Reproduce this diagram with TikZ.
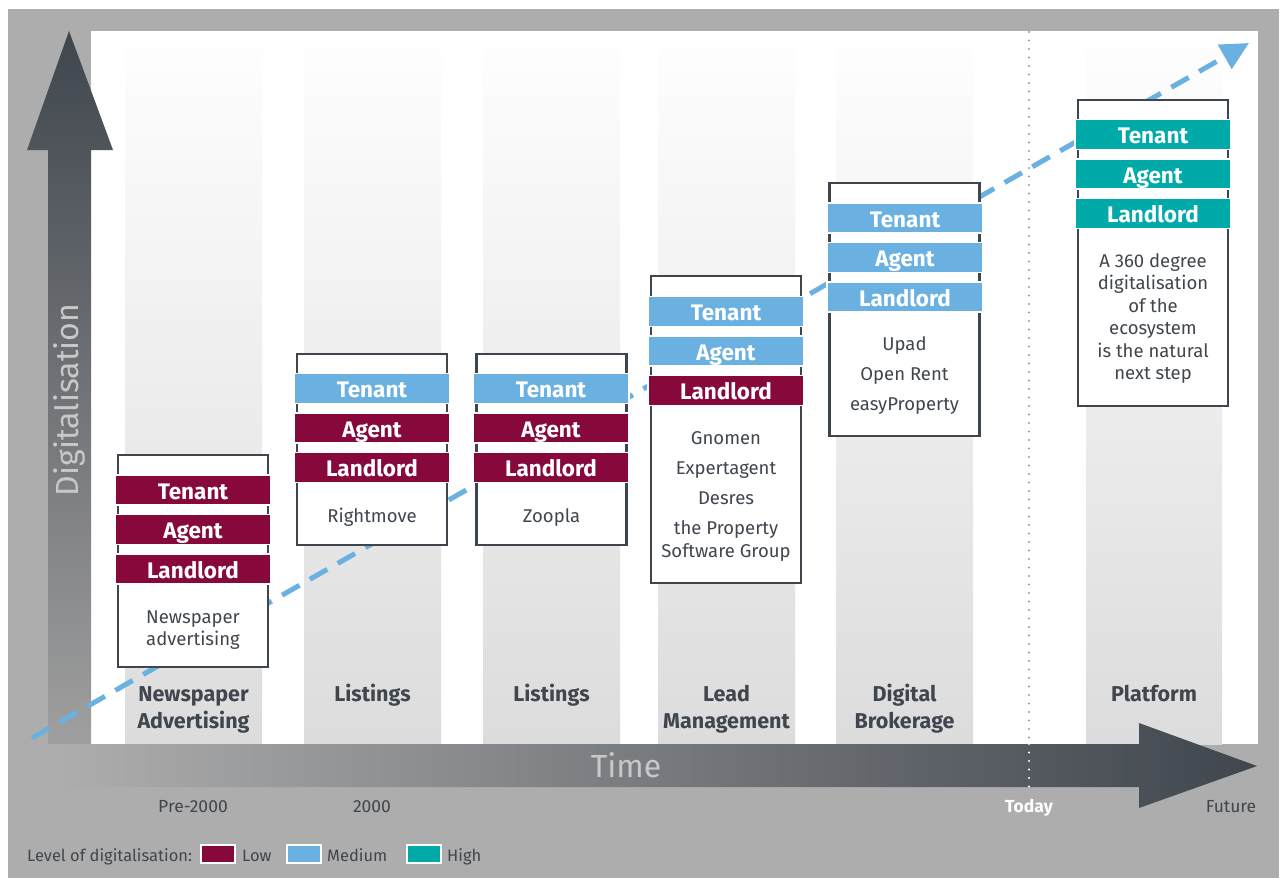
\documentclass[tikz,border=0pt]{standalone}
\usepackage{fontspec}
\setmainfont{Fira Sans}
\usetikzlibrary{arrows.meta}
\definecolor{low}{HTML}{87093C}
\definecolor{med}{HTML}{6AB0E1}
\definecolor{high}{HTML}{00AAA9}
\definecolor{framegray}{HTML}{ADADAD}
\definecolor{edge}{HTML}{3E454D}
\definecolor{ink}{HTML}{40464E}
\definecolor{darkarrow}{HTML}{40464E}
\definecolor{bandgray}{HTML}{DCDCDC}
\definecolor{axistext}{HTML}{C8C8C8}
\definecolor{dotgray}{HTML}{9A9A9A}
\newcommand\mkbars[6]{%
  \node[bar,fill=#4] (#1t) at (#2,#3) {Tenant};
  \node[bar,fill=#5] (#1a) at (#2,#3+39.5) {Agent};
  \node[bar,fill=#6] (#1l) at (#2,#3+79) {Landlord};}
\begin{document}
\begin{tikzpicture}[x=1pt,y=-1pt,
  bar/.style={minimum width=156pt, minimum height=30pt, inner sep=0pt, draw=white, line width=1.2pt,
    text=white, text height=18pt, text depth=0pt, font=\fontsize{22.5}{26}\selectfont\bfseries},
  stagebox/.style={draw=edge, line width=2.5pt, fill=white, inner sep=0pt, minimum width=150pt},
  body/.style={text=ink, font=\fontsize{18.5}{23}\selectfont, anchor=base, inner sep=0pt},
  phase/.style={text=ink, font=\fontsize{21.5}{26}\selectfont\bfseries, anchor=base, inner sep=0pt},
  year/.style={text=ink, font=\fontsize{17.5}{21}\selectfont, anchor=base, inner sep=0pt},
  legendtext/.style={text=ink, font=\fontsize{16.5}{20}\selectfont, anchor=base west, inner sep=0pt},
  swatch/.style={draw=white, line width=1.2pt, minimum width=34pt, minimum height=18pt, inner sep=0pt},
  dashline/.style={med, line width=5pt, dash pattern=on 20pt off 12pt, -{Triangle[length=28pt,width=27pt]}},
]
\useasboundingbox (0,0) rectangle (1283,878);
\fill[white] (0,0) rectangle (1283,878);
\fill[framegray] (8,9) rectangle (1279,878);
\fill[white] (91,31) rectangle (1258,744);
% column bands
\foreach \l/\r in {125/262, 304/441, 483/620, 658/795, 836/973, 1086/1222}{
  \shade[top color=white!97!bandgray, bottom color=bandgray] (\l,43) rectangle (\r,744);
}
% vertical axis arrow
\shade[top color=darkarrow, bottom color=framegray!92!black]
  (48,744) -- (48,150) -- (27,150) -- (69,31) -- (113,150) -- (91,150) -- (91,744) -- cycle;
% horizontal axis arrow
\shade[left color=framegray, right color=darkarrow]
  (60,744) -- (1139,744) -- (1139,723) -- (1257,766) -- (1139,808) -- (1139,787) -- (60,787) -- cycle;
\node[text=axistext, font=\fontsize{32}{36}\selectfont, anchor=base, inner sep=0pt] (time) at (626,777) {Time};
\node[text=axistext, font=\fontsize{32}{36}\selectfont, anchor=base, inner sep=0pt, rotate=90] (digi) at (78,400) {Digitalisation};
% today line
\coordinate (today1) at (1029,32);
\coordinate (today2) at (1029,744);
\coordinate (today3) at (1029,791);
\draw[dotgray, line width=2.2pt, line cap=round, dash pattern=on 0pt off 8.5pt] (today1) -- (today2);
\draw[white, line width=2.2pt, line cap=round, dash pattern=on 0pt off 8.5pt] (today2) -- (today3);
% trend line
\coordinate (trend0) at (32,738);
\coordinate (trend1) at (1249,43);
\draw[dashline] (trend0) -- (trend1);
% boxes
\node[stagebox, minimum height=212pt] (box1) at (193,561) {};
\node[stagebox, minimum height=191pt] (box2) at (372,449.5) {};
\node[stagebox, minimum height=191pt] (box3) at (551.5,449.5) {};
\node[stagebox, minimum height=307pt] (box4) at (726,429.5) {};
\node[stagebox, minimum height=253pt] (box5) at (904.5,309.5) {};
\node[stagebox, minimum height=306pt] (box6) at (1153,253) {};
\mkbars{p}{193}{490}{low}{low}{low}
\mkbars{q}{372}{388.5}{med}{low}{low}
\mkbars{r}{551}{388.5}{med}{low}{low}
\mkbars{s}{726}{311.5}{med}{med}{low}
\mkbars{u}{905}{218}{med}{med}{med}
\mkbars{v}{1153}{134.5}{high}{high}{high}
% box texts
\node[body] (t1a) at (193,623) {Newspaper};
\node[body] (t1b) at (193,645.5) {advertising};
\node[body] (t2) at (372,522) {Rightmove};
\node[body] (t3) at (551.5,522) {Zoopla};
\node[body] (t4a) at (726,444) {Gnomen};
\node[body] (t4b) at (726,474) {Expertagent};
\node[body] (t4c) at (726,504) {Desres};
\node[body] (t4d) at (726,534) {the Property};
\node[body] (t4e) at (726,557) {Software Group};
\node[body] (t5a) at (904.5,350) {Upad};
\node[body] (t5b) at (904.5,380) {Open Rent};
\node[body] (t5c) at (904.5,410) {easyProperty};
\node[body] (t6a) at (1153,267) {A 360 degree};
\node[body] (t6b) at (1153,289.5) {digitalisation};
\node[body] (t6c) at (1153,312) {of the};
\node[body] (t6d) at (1153,334.5) {ecosystem};
\node[body] (t6e) at (1153,357) {is the natural};
\node[body] (t6f) at (1153,379.5) {next step};
% phase labels
\node[phase] (ph1a) at (193.5,701) {Newspaper};
\node[phase] (ph1b) at (193.5,728) {Advertising};
\node[phase] (ph2) at (372.5,701) {Listings};
\node[phase] (ph3) at (551.5,701) {Listings};
\node[phase] (ph4a) at (726.5,701) {Lead};
\node[phase] (ph4b) at (726.5,728) {Management};
\node[phase] (ph5a) at (904.5,701) {Digital};
\node[phase] (ph5b) at (904.5,728) {Brokerage};
\node[phase] (ph6) at (1154,701) {Platform};
% time labels
\node[year] (y1) at (193,812) {Pre-2000};
\node[year] (y2) at (372,812) {2000};
\node[year, text=white, font=\fontsize{17.5}{21}\selectfont\bfseries] (y3) at (1029,812) {Today};
\node[year] (y4) at (1231,812) {Future};
% legend
\node[legendtext] (lg) at (27,861) {Level of digitalisation:};
\node[swatch, fill=low] (swl) at (218,854) {};
\node[legendtext] (lgl) at (242,861) {Low};
\node[swatch, fill=med] (swm) at (304,854) {};
\node[legendtext] (lgm) at (327,861) {Medium};
\node[swatch, fill=high] (swh) at (424,854) {};
\node[legendtext] (lgh) at (447,861) {High};
\end{tikzpicture}
\end{document}
